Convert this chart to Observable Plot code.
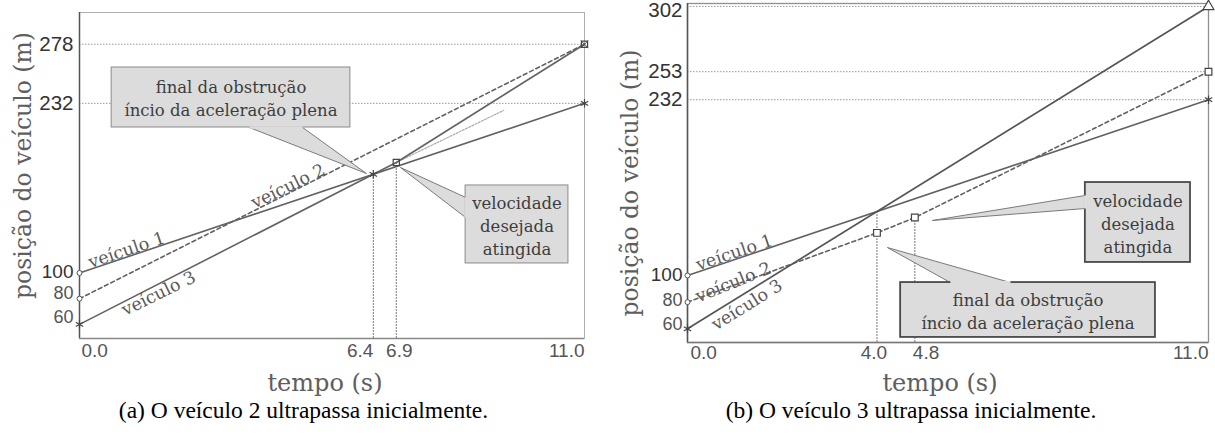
<!DOCTYPE html>
<html><head><meta charset="utf-8">
<script src="https://cdn.jsdelivr.net/npm/d3@7"></script>
<script src="https://cdn.jsdelivr.net/npm/@observablehq/plot@0.6"></script>
<style>
body{margin:0;background:#fff;width:1215px;height:434px;overflow:hidden}
#wrap{display:flex}
.panel{display:flex;flex-direction:column}
.cap{font-family:"Liberation Serif","Times New Roman",serif;font-size:23.5px;line-height:30px;text-align:center;color:#000;height:39px;white-space:nowrap}
</style></head><body>
<div id="wrap"><div class="panel" id="pa" style="width:607px"></div><div class="panel" id="pb" style="width:608px"></div></div>
<script>
// ---------- Panel (a): veículo 2 ultrapassa inicialmente ----------
const xTicksA = [0, 6.4, 6.9, 11];
const yTicksA = [60, 80, 100, 232, 278];
const v1A_t = [0, 11],            v1A_pos = [100, 232];
const v2A_t = [0, 11],            v2A_pos = [80, 278];
const v3A_t = [0, 6.4, 6.9, 11],  v3A_pos = [60, 176.8, 186, 278];
const extA_t = [6.9, 9.24],       extA_pos = [186, 226.5];
const refA = [278, 232];
const guideA_t = [6.4, 6.9],      guideA_pos = [176.8, 186];
const vehLabels = ["veículo 1", "veículo 2", "veículo 3"];
const labelA_t = [1.07, 4.6, 1.66], labelA_pos = [112.8, 162.8, 90.3];
const boxA1_t = [0.70, 5.90], boxA1_pos = [213.2, 259.9];
const textObstr = "final da obstrução\níncio da aceleração plena";
const ptrA1_t = [3.70, 6.25, 4.86], ptrA1_pos = [213.2, 177.4, 213.2];
const boxA2_t = [8.41, 10.65], boxA2_pos = [107.4, 168.1];
const textVeloc = "velocidade\ndesejada\natingida";
const ptrA2_t = [8.41, 6.99, 8.41], ptrA2_pos = [158.8, 182.1, 143.2];
const circA_t = [0, 0], circA_pos = [100, 80];
const astA_t = [0, 6.4, 11], astA_pos = [60, 176.8, 232];
const sqA_t = [11, 6.9], sqA_pos = [278, 186];
const domainA = [49, 302.7];

// ---------- Panel (b): veículo 3 ultrapassa inicialmente ----------
const xTicksB = [0, 4.0, 4.8, 11];
const yTicksB = [60, 80, 100, 232, 253, 302];
const v1B_t = [0, 11],              v1B_pos = [100, 232];
const v2B_t = [0, 4.0, 4.8, 11],    v2B_pos = [80, 132, 143.5, 253];
const v3B_t = [0, 11],              v3B_pos = [60, 302];
const refB = [302, 253, 232];
const guideB_t = [4.0, 4.8],        guideB_pos = [148, 143.5];
const labelB_t = [1.03, 0.97, 1.18], labelB_pos = [112.4, 92.6, 86];
const boxB1_t = [8.40, 10.62], boxB1_pos = [109.8, 169.8];
const ptrB1_t = [8.40, 5.17, 8.40], ptrB1_pos = [160.1, 141.3, 150.3];
const boxB2_t = [4.50, 9.88], boxB2_pos = [53.5, 94.7];
const ptrB2_t = [5.55, 4.22, 6.82], ptrB2_pos = [94.7, 121, 94.7];
const circB_t = [0, 0], circB_pos = [100, 80];
const astB_t = [0, 11], astB_pos = [60, 232];
const sqB_t = [11, 4.0, 4.8], sqB_pos = [253, 132, 143.5];
const triB_t = [11], triB_pos = [302];
const domainB = [49.7, 304.2];

const captionA = "(a) O veículo 2 ultrapassa inicialmente.";
const captionB = "(b) O veículo 3 ultrapassa inicialmente.";

// ---------- helpers ----------
const pts = (t, p) => t.map((d, i) => ({t: d, v: p[i]}));
const SERIF = "DejaVu Serif, serif";
const SANS = "Liberation Sans, Arial, sans-serif";
const LINE = "#626262";

function callout(box_t, box_pos, ptr_t, ptr_pos, txt, boxStroke, boxWidth) {
  const ptr = pts(ptr_t, ptr_pos);
  const base = [ptr[0], ptr[2]];
  return [
    Plot.line(ptr, {x: "t", y: "v", fill: "#dcdcdc", stroke: "#7a7a7a", strokeWidth: 1}),
    Plot.rect([{x1: box_t[0], x2: box_t[1], y1: box_pos[0], y2: box_pos[1]}],
      {x1: "x1", x2: "x2", y1: "y1", y2: "y2", fill: "#dcdcdc", stroke: boxStroke, strokeWidth: boxWidth}),
    Plot.line(base, {x: "t", y: "v", stroke: "#dcdcdc", strokeWidth: boxWidth + 1.5, strokeLinecap: "butt"}),
    Plot.text([txt], {x: (box_t[0] + box_t[1]) / 2, y: (box_pos[0] + box_pos[1]) / 2, text: d => d,
      fontFamily: SERIF, fontSize: 16.5, lineHeight: 1.38, fill: "#3c3c3c"})
  ];
}

function vehLabel(t, p, i, rot, anchor, dy) {
  return Plot.text([{t: t[i], v: p[i], s: vehLabels[i]}], {x: "t", y: "v", text: "s", rotate: rot,
    lineAnchor: anchor, dy: dy, fontFamily: SERIF, fontSize: 17.5, fill: "#5a5a5a"});
}

function titles(dxY, dyY, dxX, dyX) {
  return [
    Plot.text(["posição do veículo (m)"], {frameAnchor: "left", text: d => d, rotate: -90, textAnchor: "middle", lineAnchor: "middle",
      dx: dxY, dy: dyY, fontFamily: SERIF, fontSize: 23.5, fill: "#5e5e5e"}),
    Plot.text(["tempo (s)"], {frameAnchor: "bottom", text: d => d, textAnchor: "middle", lineAnchor: "middle",
      dx: dxX, dy: dyX, fontFamily: SERIF, fontSize: 24, fill: "#5e5e5e"})
  ];
}

// ---------- Panel (a) ----------
const plotA = Plot.plot({
  width: 607, height: 395, marginLeft: 79, marginRight: 23, marginTop: 12, marginBottom: 57,
  style: {overflow: "visible", background: "#fff"},
  x: {domain: [0, 11], label: null},
  y: {domain: domainA, label: null},
  marks: [
    Plot.frame({stroke: "#b0b0b0"}),
    Plot.ruleY(refA, {stroke: "#9a9a9a", strokeDasharray: "1.5,1.5"}),
    Plot.ruleX(pts(guideA_t, guideA_pos), {x: "t", y1: domainA[0], y2: "v", stroke: "#777", strokeDasharray: "2,1"}),
    Plot.ruleX([0], {stroke: "#555", strokeWidth: 1.5}),
    Plot.ruleY([domainA[0]], {stroke: "#888", strokeWidth: 1.5}),
    Plot.line(pts(extA_t, extA_pos), {x: "t", y: "v", stroke: "#aaa", strokeWidth: 1.2, strokeDasharray: "2,1.5"}),
    Plot.line(pts(v1A_t, v1A_pos), {x: "t", y: "v", stroke: LINE, strokeWidth: 1.6}),
    Plot.line(pts(v2A_t, v2A_pos), {x: "t", y: "v", stroke: LINE, strokeWidth: 1.6, strokeDasharray: "4,3"}),
    Plot.line(pts(v3A_t, v3A_pos), {x: "t", y: "v", stroke: LINE, strokeWidth: 1.6}),
    Plot.dot(pts(circA_t, circA_pos), {x: "t", y: "v", r: 2.5, stroke: "#555", fill: "#fff", strokeWidth: 1}),
    Plot.dot(pts(astA_t, astA_pos), {x: "t", y: "v", r: 4, symbol: "asterisk", stroke: "#444", strokeWidth: 1.2}),
    Plot.dot(pts(sqA_t, sqA_pos), {x: "t", y: "v", r: 3.5, symbol: "square", stroke: "#444", fill: "none", strokeWidth: 1.2}),
    Plot.dot(pts([11], [278]), {x: "t", y: "v", r: 3.5, symbol: "times", stroke: "#444", strokeWidth: 1}),
    vehLabel(labelA_t, labelA_pos, 0, -18.6, "bottom", -1),
    vehLabel(labelA_t, labelA_pos, 1, -26, "bottom", -1),
    vehLabel(labelA_t, labelA_pos, 2, -26, "top", 2),
    ...callout(boxA1_t, boxA1_pos, ptrA1_t, ptrA1_pos, textObstr, "#8a8a8a", 1),
    ...callout(boxA2_t, boxA2_pos, ptrA2_t, ptrA2_pos, textVeloc, "#8a8a8a", 1),
    Plot.axisX([xTicksA[0]], {tickSize: 0, tickPadding: 5, tickFormat: d => d.toFixed(1), textAnchor: "start", dx: 2, fontSize: 19, fontFamily: SANS, fill: "#555", label: null}),
    Plot.axisX([xTicksA[1]], {tickSize: 0, tickPadding: 5, tickFormat: d => d.toFixed(1), textAnchor: "end", dx: 0, fontSize: 19, fontFamily: SANS, fill: "#555", label: null}),
    Plot.axisX([xTicksA[2]], {tickSize: 0, tickPadding: 5, tickFormat: d => d.toFixed(1), textAnchor: "middle", dx: 3, fontSize: 19, fontFamily: SANS, fill: "#555", label: null}),
    Plot.axisX([xTicksA[3]], {tickSize: 0, tickPadding: 5, tickFormat: d => d.toFixed(1), textAnchor: "end", fontSize: 19, fontFamily: SANS, fill: "#555", label: null}),
    Plot.axisY(yTicksA.filter(d => d > 100), {tickSize: 0, tickPadding: 6, fontSize: 20.5, fontFamily: SANS, fill: "#333", label: null}),
    Plot.axisY([yTicksA[2]], {tickSize: 0, tickPadding: 6, dy: -1, fontSize: 19, fontFamily: SANS, fill: "#333", label: null}),
    Plot.axisY([yTicksA[1]], {tickSize: 0, tickPadding: 6, dy: -5, fontSize: 18, fontFamily: SANS, fill: "#555", label: null}),
    Plot.axisY([yTicksA[0]], {tickSize: 0, tickPadding: 6, dy: -7, fontSize: 18, fontFamily: SANS, fill: "#555", label: null}),
    ...titles(-56, -10, -7, 45)
  ]
});

// ---------- Panel (b) ----------
const plotB = Plot.plot({
  width: 608, height: 395, marginLeft: 80, marginRight: 7, marginTop: 3, marginBottom: 53,
  style: {overflow: "visible", background: "#fff"},
  x: {domain: [0, 11], label: null},
  y: {domain: domainB, label: null},
  marks: [
    Plot.frame({stroke: "#909090", strokeWidth: 1.3}),
    Plot.ruleY(refB, {stroke: "#9a9a9a", strokeDasharray: "1.5,1.5"}),
    Plot.ruleX(pts(guideB_t, guideB_pos), {x: "t", y1: domainB[0], y2: "v", stroke: "#777", strokeDasharray: "2,1"}),
    Plot.ruleX([0], {stroke: "#555", strokeWidth: 1.5}),
    Plot.ruleY([domainB[0]], {stroke: "#777", strokeWidth: 1.5}),
    Plot.line(pts(v1B_t, v1B_pos), {x: "t", y: "v", stroke: LINE, strokeWidth: 1.6}),
    Plot.line(pts(v2B_t, v2B_pos), {x: "t", y: "v", stroke: LINE, strokeWidth: 1.6, strokeDasharray: "4,3"}),
    Plot.line(pts(v3B_t, v3B_pos), {x: "t", y: "v", stroke: "#555", strokeWidth: 1.7}),
    Plot.dot(pts(circB_t, circB_pos), {x: "t", y: "v", r: 2.5, stroke: "#555", fill: "#fff", strokeWidth: 1}),
    Plot.dot(pts(astB_t, astB_pos), {x: "t", y: "v", r: 4, symbol: "asterisk", stroke: "#444", strokeWidth: 1.2}),
    Plot.dot(pts(sqB_t, sqB_pos), {x: "t", y: "v", r: 3.8, symbol: "square", stroke: "#444", fill: "#fff", strokeWidth: 1.2}),
    Plot.dot(pts(triB_t, triB_pos), {x: "t", y: "v", r: 4, symbol: "triangle", stroke: "#444", fill: "#fff", strokeWidth: 1.2}),
    vehLabel(labelB_t, labelB_pos, 0, -18.6, "bottom", -1),
    vehLabel(labelB_t, labelB_pos, 1, -22, "middle", -3),
    vehLabel(labelB_t, labelB_pos, 2, -32, "top", 5),
    ...callout(boxB1_t, boxB1_pos, ptrB1_t, ptrB1_pos, textVeloc, "#4a4a4a", 1.8),
    ...callout(boxB2_t, boxB2_pos, ptrB2_t, ptrB2_pos, textObstr, "#4a4a4a", 1.8),
    Plot.axisX([xTicksB[0]], {tickSize: 0, tickPadding: 3, tickFormat: d => d.toFixed(1), textAnchor: "start", dx: 3, fontSize: 19, fontFamily: SANS, fill: "#555", label: null}),
    Plot.axisX([xTicksB[1]], {tickSize: 0, tickPadding: 3, tickFormat: d => d.toFixed(1), textAnchor: "middle", dx: -3, fontSize: 19, fontFamily: SANS, fill: "#555", label: null}),
    Plot.axisX([xTicksB[2]], {tickSize: 0, tickPadding: 3, tickFormat: d => d.toFixed(1), textAnchor: "start", dx: -2, fontSize: 19, fontFamily: SANS, fill: "#555", label: null}),
    Plot.axisX([xTicksB[3]], {tickSize: 0, tickPadding: 3, tickFormat: d => d.toFixed(1), textAnchor: "end", fontSize: 19, fontFamily: SANS, fill: "#555", label: null}),
    Plot.axisY([yTicksB[5]], {tickSize: 0, tickPadding: 5, dy: 4, fontSize: 20.5, fontFamily: SANS, fill: "#333", label: null}),
    Plot.axisY(yTicksB.filter(d => d > 100 && d < 300), {tickSize: 0, tickPadding: 5, fontSize: 20.5, fontFamily: SANS, fill: "#333", label: null}),
    Plot.axisY([yTicksB[2]], {tickSize: 0, tickPadding: 5, dy: -1, fontSize: 19, fontFamily: SANS, fill: "#333", label: null}),
    Plot.axisY([yTicksB[1]], {tickSize: 0, tickPadding: 5, dy: -2, fontSize: 18, fontFamily: SANS, fill: "#555", label: null}),
    Plot.axisY([yTicksB[0]], {tickSize: 0, tickPadding: 5, dy: -5, fontSize: 18, fontFamily: SANS, fill: "#555", label: null}),
    ...titles(-57, 10, -8, 41)
  ]
});

function mount(id, plot, cap) {
  const el = document.getElementById(id);
  el.appendChild(plot);
  const c = document.createElement("div");
  c.className = "cap";
  c.textContent = cap;
  el.appendChild(c);
}
mount("pa", plotA, captionA);
mount("pb", plotB, captionB);
</script>
</body></html>
